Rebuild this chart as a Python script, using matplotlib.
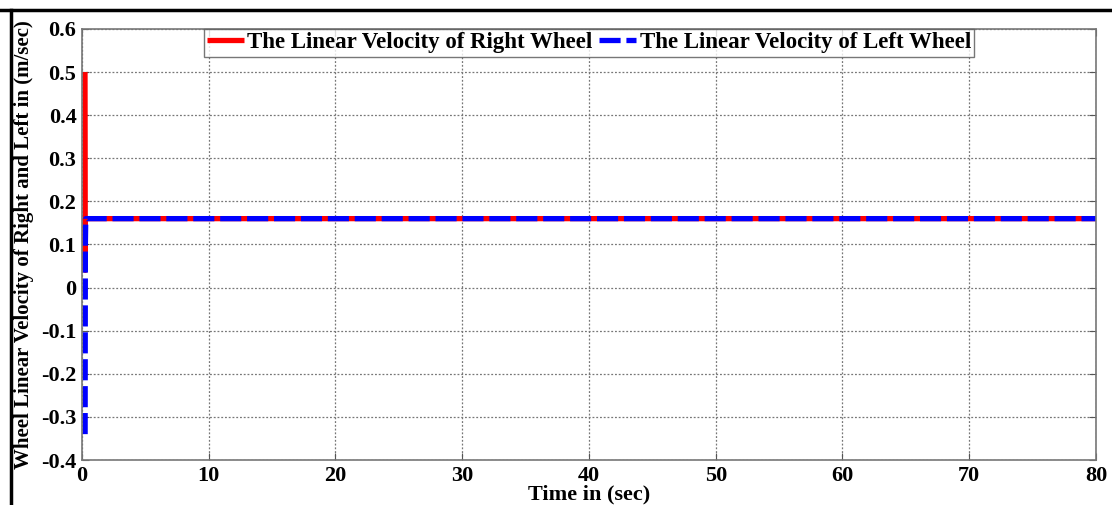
import numpy as np
import matplotlib.pyplot as plt
from matplotlib.lines import Line2D

plt.rcParams['font.family'] = ['Liberation Serif', 'DejaVu Serif']
plt.rcParams['font.weight'] = 'bold'

# simulated wheel linear velocities (m/sec)
t_right = [0.24, 0.25, 0.26, 0.27, 0.32, 80.0]
v_right = [0.50, 0.33, 0.04, 0.16, 0.16, 0.16]
t_left = [0.25, 0.26, 0.27, 0.30, 80.0]
v_left = [-0.34, -0.10, 0.10, 0.16, 0.16]

x_ticks = [0, 10, 20, 30, 40, 50, 60, 70, 80]
y_ticks = [-0.4, -0.3, -0.2, -0.1, 0, 0.1, 0.2, 0.3, 0.4, 0.5, 0.6]
y_labels = ['-0.4', '-0.3', '-0.2', '-0.1', '0', '0.1', '0.2', '0.3', '0.4', '0.5', '0.6']

fig = plt.figure(figsize=(11.12, 5.05), dpi=100)
ax = fig.add_axes([0.0737, 0.0891, 0.9119, 0.8535])

ax.plot(t_right, v_right, color='#ff0000', lw=3.8, solid_capstyle='butt',
        label='The Linear Velocity of Right Wheel')
ax.plot(t_left, v_left, color='#0000ff', lw=3.8, dashes=(4.0, 1.1),
        dash_capstyle='butt', label='The Linear Velocity of Left Wheel')

ax.set_xlim(0, 80)
ax.set_ylim(-0.4, 0.6)
ax.set_xticks(x_ticks)
ax.set_yticks(y_ticks)
ax.set_yticklabels(y_labels)
ax.tick_params(direction='in', top=True, right=True, labelsize=16,
               color='#555555', length=5, pad=4)
for s in ax.spines.values():
    s.set_color('#777777')
    s.set_linewidth(1.2)
ax.grid(True, linestyle=(0, (1.5, 1.5)), color='#777777', linewidth=0.9)

ax.set_xlabel('Time in (sec)', fontsize=16, fontweight='bold', labelpad=-1)
ax.set_ylabel('Wheel Linear Velocity of Right and Left in (m/sec)', fontsize=15,
              fontweight='bold', labelpad=5)

leg = ax.legend(loc='upper center', ncol=2, fontsize=16.5, frameon=True,
                fancybox=False, borderaxespad=0.0, handlelength=1.6,
                handletextpad=0.15, columnspacing=0.3, borderpad=0.15)
leg.get_frame().set_edgecolor('#555555')
leg.get_frame().set_linewidth(1.0)

# outer frame lines
fig.add_artist(Line2D([0.0, 1.0], [1 - 10 / 505, 1 - 10 / 505], color='black', lw=2.5,
                      transform=fig.transFigure))
fig.add_artist(Line2D([11 / 1112, 11 / 1112], [0.0, 1 - 10 / 505], color='black', lw=2.5,
                      transform=fig.transFigure))

fig.savefig('out.png', dpi=100)
